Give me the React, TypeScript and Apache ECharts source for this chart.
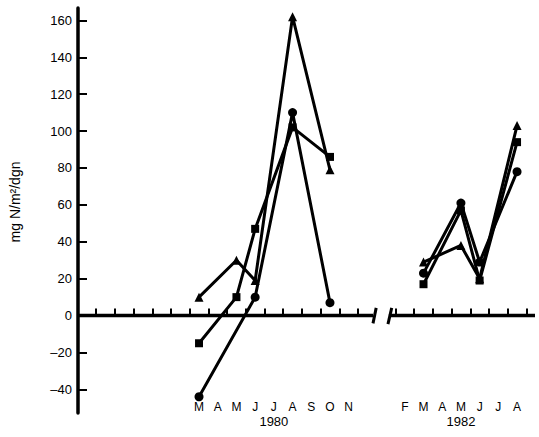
import React, { useEffect, useRef } from "react";
import * as echarts from "echarts";

// Month index on the x scale: Mar 1980 = 3 … Nov 1980 = 11.
// 1982 months are shifted by 12 so they follow the axis break (Feb 1982 = 14).
const months1980 = [3, 5, 6, 8, 10]; // Mar, May, Jun, Aug, Oct
const triangle1980 = [10, 30, 19, 162, 79];
const square1980 = [-15, 10, 47, 102, 86];
const circleMonths1980 = [3, 6, 8, 10]; // Mar, Jun, Aug, Oct
const circle1980 = [-44, 10, 110, 7];

const months1982 = [15, 17, 18, 20]; // Mar, May, Jun, Aug
const triangle1982 = [29, 38, 20, 103];
const square1982 = [17, 57, 19, 94];
const circle1982 = [23, 61, 29, 78];

const letters1980 = ["M", "A", "M", "J", "J", "A", "S", "O", "N"]; // Mar..Nov
const letterMonths1980 = [3, 4, 5, 6, 7, 8, 9, 10, 11];
const letters1982 = ["F", "M", "A", "M", "J", "J", "A"]; // Feb..Aug
const letterMonths1982 = [14, 15, 16, 17, 18, 19, 20];
const yearLabels: Record<number, string> = { 7: "1980", 17: "1982" };

const yTicks = [-40, -20, 0, 20, 40, 60, 80, 100, 120, 140, 160];
// month boundaries carry the small upward ticks
const xTicksLeft = [-2.5, -1.5, -0.5, 0.5, 1.5, 2.5, 3.5, 4.5, 5.5, 6.5, 7.5, 8.5, 9.5, 10.5, 11.5];
const xTicksRight = [13.5, 14.5, 15.5, 16.5, 17.5, 18.5, 19.5, 20.5];

const X_MIN = -3.47;
const X_MAX = 20.96;
const Y_MIN = -52.8;
const Y_MAX = 166.7;
const BREAK_LEFT = 12.3;
const BREAK_RIGHT = 13.15;

const FONT = "'Liberation Sans', Arial, Helvetica, sans-serif";
const INK = "#000";

const pairs = (xs: number[], ys: number[]) => xs.map((x, i) => [x, ys[i]]);

const lineSeries = (name: string, data: number[][], symbol: string, size: number) => ({
  name,
  type: "line",
  data,
  symbol,
  symbolSize: size,
  showSymbol: true,
  lineStyle: { color: INK, width: 3 },
  itemStyle: { color: INK },
  z: 5,
  silent: true,
});

const plainSegment = (data: number[][], width: number) => ({
  type: "line",
  data,
  symbol: "none",
  lineStyle: { color: INK, width },
  z: 3,
  silent: true,
});

export default function App() {
  const ref = useRef<HTMLDivElement>(null);

  useEffect(() => {
    if (!ref.current) return;
    const chart = echarts.init(ref.current, undefined, { renderer: "svg" });

    const letterOf: Record<number, string> = {};
    letterMonths1980.forEach((m, i) => (letterOf[m] = letters1980[i]));
    letterMonths1982.forEach((m, i) => (letterOf[m] = letters1982[i]));

    chart.setOption({
      animation: false,
      backgroundColor: "#fff",
      grid: {
        left: 78,
        right: 4,
        top: 8,
        bottom: 24,
        containLabel: false,
        outerBoundsMode: "none",
      },
      xAxis: [
        {
          // month-boundary ticks sitting on the zero line
          type: "value",
          min: X_MIN,
          max: X_MAX,
          axisLine: { show: false, onZero: true },
          splitLine: { show: false },
          axisTick: {
            show: true,
            inside: true,
            length: 7,
            lineStyle: { color: INK, width: 2 },
            customValues: [...xTicksLeft, ...xTicksRight],
          },
          axisLabel: { show: false },
        },
        {
          // month letters and years along the bottom
          type: "value",
          position: "bottom",
          min: X_MIN,
          max: X_MAX,
          axisLine: { show: false, onZero: false },
          axisTick: { show: false },
          splitLine: { show: false },
          axisLabel: {
            show: true,
            margin: -13,
            hideOverlap: false,
            customValues: [...letterMonths1980, ...letterMonths1982],
            formatter: (v: number) => {
              const m = Math.round(v);
              const letter = letterOf[m] ?? "";
              const year = yearLabels[m];
              return year ? `{m|${letter}}\n{y|${year}}` : `{m|${letter}}`;
            },
            rich: {
              m: { fontFamily: FONT, fontSize: 12, color: INK, lineHeight: 14 },
              y: { fontFamily: FONT, fontSize: 13, color: INK, lineHeight: 14 },
            },
          },
        },
      ],
      yAxis: {
        type: "value",
        min: Y_MIN,
        max: Y_MAX,
        axisLine: { show: true, onZero: false, lineStyle: { color: INK, width: 3.5 } },
        splitLine: { show: false },
        axisTick: {
          show: true,
          inside: true,
          length: 9,
          lineStyle: { color: INK, width: 2 },
          customValues: yTicks,
        },
        axisLabel: {
          show: true,
          margin: 6,
          customValues: yTicks,
          color: INK,
          fontFamily: FONT,
          fontSize: 13,
          formatter: (v: number) => String(Math.round(v)).replace("-", "\u2013"),
        },
      },
      graphic: [
        {
          type: "text",
          x: 15,
          y: 202,
          rotation: Math.PI / 2,
          style: {
            text: "mg N/m\u00B2/dgn",
            fontFamily: FONT,
            fontSize: 14,
            fill: INK,
            align: "center",
            verticalAlign: "middle",
          },
        },
      ],
      series: [
        // zero baseline, interrupted by the break
        plainSegment([[X_MIN, 0], [BREAK_LEFT, 0]], 3.5),
        plainSegment([[BREAK_RIGHT, 0], [X_MAX, 0]], 3.5),
        // break slashes
        plainSegment([[12.3, -4.2], [12.47, 4.2]], 3),
        plainSegment([[13.1, -4.6], [13.3, 4.2]], 3),
        // 1980
        lineSeries("triangle-1980", pairs(months1980, triangle1980), "triangle", 9),
        lineSeries("square-1980", pairs(months1980, square1980), "rect", 8),
        lineSeries("circle-1980", pairs(circleMonths1980, circle1980), "circle", 9),
        // 1982
        lineSeries("triangle-1982", pairs(months1982, triangle1982), "triangle", 9),
        lineSeries("square-1982", pairs(months1982, square1982), "rect", 8),
        lineSeries("circle-1982", pairs(months1982, circle1982), "circle", 9),
      ],
    });

    return () => chart.dispose();
  }, []);

  return (
    <div
      ref={ref}
      style={{ position: "fixed", left: 0, top: 0, width: 539, height: 437, background: "#fff" }}
    />
  );
}
